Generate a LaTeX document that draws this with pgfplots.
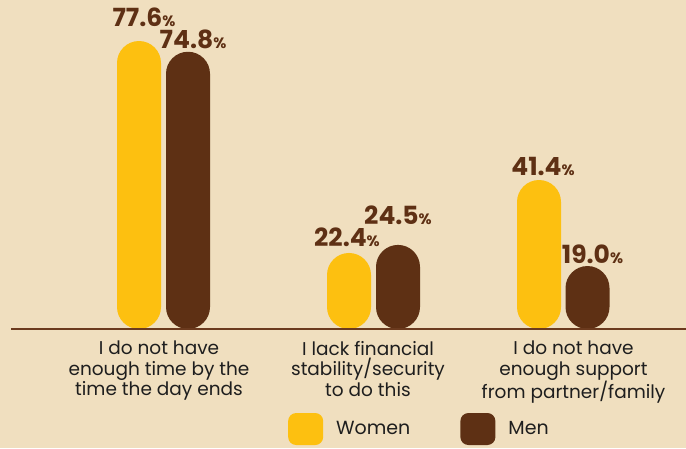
\documentclass[border=0pt]{standalone}
\usepackage{fontspec}
\setmainfont{Poppins}
\usepackage{pgfplots}
\usepackage{pgfplotstable}
\pgfplotsset{compat=1.18}
\definecolor{bg}{HTML}{F0DFBF}
\definecolor{women}{HTML}{FDC010}
\definecolor{men}{HTML}{5E3014}
\definecolor{lab}{HTML}{5E3014}
\definecolor{axisl}{HTML}{6B3A1E}
\definecolor{txt}{HTML}{1E1E1E}
\pgfplotstableread{
x y lab gap dx
139 77.6 77.6 15 5
349 22.4 22.4 6 -2
539 41.4 41.4 5 4
}\womentab
\pgfplotstableread{
x y lab gap dx
188 74.8 74.8 3 5
398 24.5 24.5 20 0
587.5 19.0 19.0 3 5
}\mentab
\begin{document}
\begin{tikzpicture}
\fill[bg] (0,-119pt) rectangle (686pt,329pt);
\path[use as bounding box] (0,-119pt) rectangle (686pt,329pt);
\begin{axis}[
  at={(0,0)}, anchor=south west,
  scale only axis, width=686pt, height=329pt,
  xmin=0, xmax=686, ymin=22.6, ymax=108.28,
  y filter/.expression={y+20},
  ybar, bar width=44, bar shift=0pt,
  axis x line=bottom, axis y line=none,
  x axis line style={draw=none,-},
  major tick length=0pt,
  ytick=\empty,
  xtick={159,368,573.5},
  xticklabels={{I do not have\\enough time by the\\time the day ends},{I lack financial\\stability/security\\to do this},{I do not have\\enough support\\from partner/family}},
  xticklabel style={align=center, anchor=north, inner sep=0pt, yshift=-12pt, font=\fontsize{18.5}{20.5}\selectfont, text=txt},
  nodes near coords={\pgfplotspointmeta{\fontsize{15}{15}\selectfont\%}},
  point meta=explicit symbolic,
  visualization depends on={\thisrow{gap} \as \gap},
  visualization depends on={\thisrow{dx} \as \dx},
  nodes near coords style={anchor=base, inner sep=0pt, yshift=\gap pt, xshift=\dx pt, text=lab, font=\fontsize{25}{25}\bfseries\selectfont},
  legend columns=2,
  legend style={draw=none, fill=none, at={(axis description cs:0.4198,-0.304)}, anchor=west, inner sep=0pt, font=\fontsize{19}{19}\selectfont, text=txt, /tikz/every even column/.append style={column sep=50pt}, /tikz/every odd column/.append style={column sep=13pt}, nodes={inner sep=0pt}},
]
\addplot[fill=women, draw=none, rounded corners=22pt,
  legend image code/.code={\fill[women, rounded corners=8pt] (0pt,-16pt) rectangle (35pt,16pt);}]
  table[x=x, y=y, meta=lab] {\womentab};
\addlegendentry{Women}
\addplot[fill=men, draw=none, rounded corners=22pt,
  legend image code/.code={\fill[men, rounded corners=8pt] (0pt,-16pt) rectangle (35pt,16pt);}]
  table[x=x, y=y, meta=lab] {\mentab};
\addlegendentry{Men}
\end{axis}
\draw[axisl, line width=2pt] (11pt,0) -- (686pt,0);
\end{tikzpicture}
\end{document}
